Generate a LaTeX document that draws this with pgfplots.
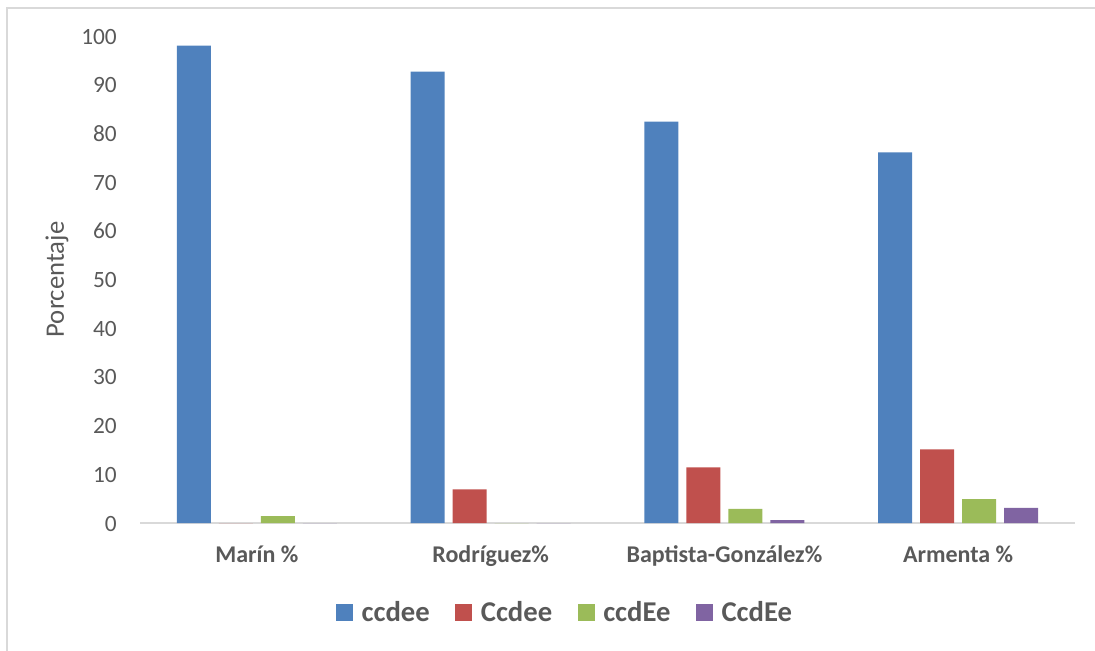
\documentclass[border=0pt]{standalone}
\usepackage{pgfplots}
\pgfplotsset{compat=1.18}
\usepackage{fontspec}
\setmainfont{Carlito}

\definecolor{txt}{HTML}{595959}
\definecolor{frm}{HTML}{D9D9D9}
\definecolor{sA}{HTML}{4F81BD}
\definecolor{sB}{HTML}{C0504D}
\definecolor{sC}{HTML}{9BBB59}
\definecolor{sD}{HTML}{8064A2}

% one column per phenotype, one row per study (0..3)
\pgfplotstableread{
x  ccdee  Ccdee  ccdEe  CcdEe
0  98.0   0.0    1.4    0.0
1  92.7   6.9    0.0    0.0
2  82.4   11.4   2.9    0.6
3  76.1   15.1   4.9    3.1
}\datos

\begin{document}
\begin{tikzpicture}
\path[use as bounding box] (0pt,0pt) rectangle (821.25pt,-487.5pt);
\draw[frm, line width=1.1pt] (5.25pt,-520pt) -- (5.25pt,-6pt) -- (860pt,-6pt);
\begin{axis}[
  at={(105pt,-392.25pt)}, anchor=south west,
  scale only axis, width=701.25pt, height=365.25pt,
  ybar=6pt, bar width=25.5pt,
  xmin=-0.5, xmax=3.5, ymin=0, ymax=100,
  enlargelimits=false,
  axis x line*=bottom, axis y line*=left,
  y axis line style={draw=none},
  x axis line style={draw=frm, line width=1.1pt},
  major tick length=0pt,
  tick style={draw=none},
  xtick={0,1,2,3},
  xticklabels={Marín \%, Rodríguez\%, Baptista-González\%, Armenta \%},
  ytick={0,10,...,100},
  /pgf/number format/assume math mode=true,
  yticklabel style={font=\fontsize{17.5}{20}\selectfont, text=txt, anchor=base east, inner sep=0pt, xshift=-17.25pt, yshift=-6pt},
  xticklabel style={font=\bfseries\fontsize{18}{21}\selectfont, text=txt, anchor=base, inner sep=0pt, yshift=-29.8pt},
  ylabel={Porcentaje},
  ylabel style={font=\fontsize{20}{24}\selectfont, text=txt, at={(axis description cs:-0.0813,0.5)}, anchor=base, rotate=0},
  legend columns=-1,
  legend image code/.code={\fill[#1] (0pt,-6.4pt) rectangle (12.75pt,6.4pt);},
  legend style={draw=none, fill=none, at={(axis description cs:0.205,-0.1828)}, anchor=west,
    font=\bfseries\fontsize{21.5}{24}\selectfont, text=txt,
    /tikz/every odd column/.append style={column sep=4.5pt},
    /tikz/every even column/.append style={column sep=17pt}},
]
\addplot[fill=sA, draw=none] table[x=x, y=ccdee] {\datos};
\addplot[fill=sB, draw=none] table[x=x, y=Ccdee] {\datos};
\addplot[fill=sC, draw=none] table[x=x, y=ccdEe] {\datos};
\addplot[fill=sD, draw=none] table[x=x, y=CcdEe] {\datos};
\legend{ccdee, Ccdee, ccdEe, CcdEe}
\end{axis}
\end{tikzpicture}
\end{document}
